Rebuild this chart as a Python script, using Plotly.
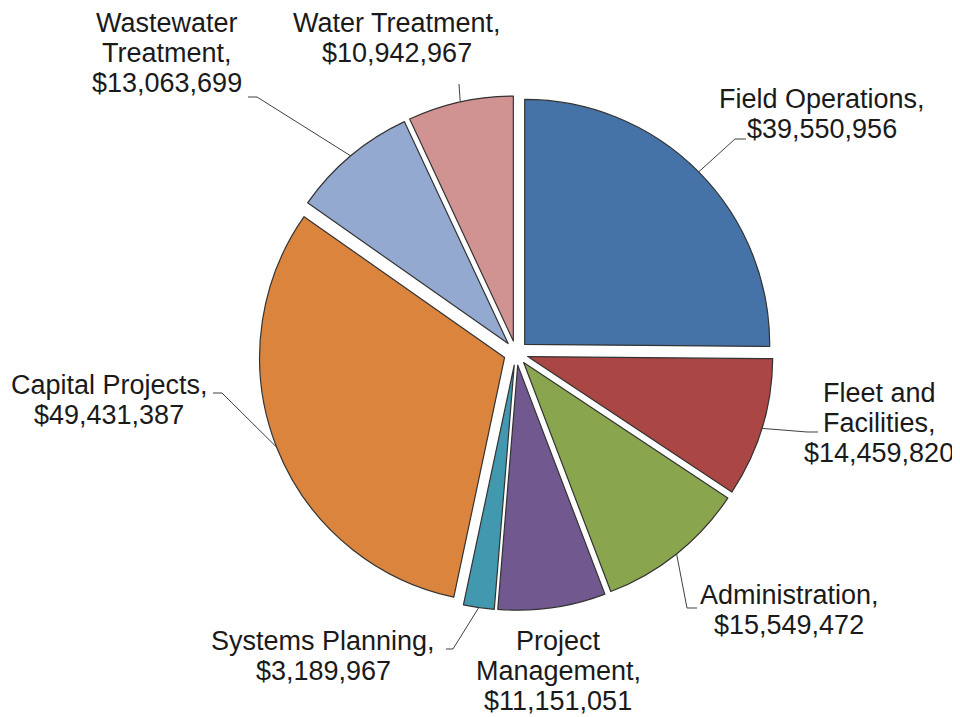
import math
import plotly.graph_objects as go

# ---- data ----
categories = ["Field Operations", "Fleet and Facilities", "Administration",
              "Project Management", "Systems Planning", "Capital Projects",
              "Wastewater Treatment", "Water Treatment"]
values = [39550956, 14459820, 15549472, 11151051, 3189967, 49431387,
          13063699, 10942967]
colors = ["#4572A7", "#AA4643", "#89A54E", "#71588F", "#4198AF", "#DB843D",
          "#93A9CF", "#D19392"]
# how each category name is wrapped in its label
name_lines = [["Field Operations,"], ["Fleet and", "Facilities,"],
              ["Administration,"], ["Project", "Management,"],
              ["Systems Planning,"], ["Capital Projects,"],
              ["Wastewater", "Treatment,"], ["Water Treatment,"]]

# ---- layout constants (pixels, in the screenshot frame) ----
W, H = 960, 717
PAGE_OFFSET = 8          # browser body margin
CX, CY = 516, 353
R = 245
PULL = 0.05
FONT = dict(family="Arial, Liberation Sans, sans-serif", size=27, color="#1a1a1a")
LINE_GAP = 30
# label block: centre x, y of first line middle
label_pos = [(822, 99), (879, 393), (789, 595), (558, 641),
             (323, 641), (109, 385), (167, 23), (397, 23)]
# leader line: elbow point and end point (None = no leader)
leaders = [((735, 139), (746, 139)), ((807, 432), (818, 432)),
           ((687, 608), (697, 608)), None,
           ((453, 649), (446, 649)), ((222, 393), (213, 393)),
           ((257, 97), (248, 97)), ((459, 84), (459, 84))]


def px(x, y):
    return (x - PAGE_OFFSET) / W, 1 - (y - PAGE_OFFSET) / H


half = R * (1 + PULL)
halfw = half + 40
domain_x = [(CX - PAGE_OFFSET - halfw) / W, (CX - PAGE_OFFSET + halfw) / W]
domain_y = [1 - (CY - PAGE_OFFSET + half) / H, 1 - (CY - PAGE_OFFSET - half) / H]

fig = go.Figure(go.Pie(
    labels=categories, values=values, sort=False, direction="clockwise",
    rotation=0, pull=[PULL] * len(values), textinfo="none", hoverinfo="label+value",
    marker=dict(colors=colors, line=dict(color="#333333", width=1.2)),
    domain=dict(x=domain_x, y=domain_y), showlegend=False,
))

total = sum(values)
cum = 0
annotations = []
shapes = []
for i, v in enumerate(values):
    mid = (cum + v / 2) / total * 2 * math.pi
    cum += v
    lines = name_lines[i] + ["${:,}".format(v)]
    lx, ly = label_pos[i]
    for k, t in enumerate(lines):
        x, y = px(lx, ly + k * LINE_GAP)
        annotations.append(dict(x=x, y=y, xref="paper", yref="paper", text=t,
                                showarrow=False, xanchor="center", yanchor="middle",
                                font=FONT))
    if leaders[i] is not None:
        ax = CX + half * math.sin(mid)
        ay = CY - half * math.cos(mid)
        (ex, ey), (fx, fy) = leaders[i]
        pts = [px(ax, ay), px(ex, ey), px(fx, fy)]
        path = "M {:.5f} {:.5f} L {:.5f} {:.5f} L {:.5f} {:.5f}".format(
            pts[0][0], pts[0][1], pts[1][0], pts[1][1], pts[2][0], pts[2][1])
        shapes.append(dict(type="path", path=path, xref="paper", yref="paper",
                           line=dict(color="#404040", width=1)))

fig.update_layout(width=W, height=H, margin=dict(l=0, r=0, t=0, b=0),
                  paper_bgcolor="white", plot_bgcolor="white",
                  annotations=annotations, shapes=shapes)
fig.write_html("out.html")
